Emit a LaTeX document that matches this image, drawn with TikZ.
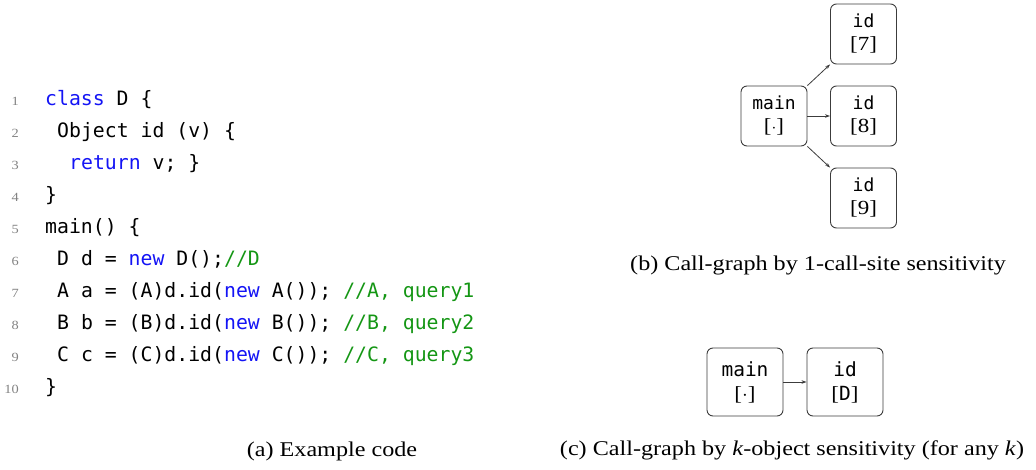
\documentclass[tikz,border=0pt]{standalone}
\usepackage{fontspec}
\usetikzlibrary{arrows.meta}
\newfontfamily\codefont{DejaVu Sans Mono}
\setmainfont{Liberation Serif}[FakeStretch=1.15]
\definecolor{kw}{RGB}{20,20,245}
\definecolor{cm}{RGB}{20,150,20}
\definecolor{lnum}{RGB}{130,130,130}
\definecolor{boxc}{RGB}{60,60,60}
\tikzset{
  codeline/.style={anchor=base west, inner sep=0pt, font=\codefont\fontsize{19.8}{22}\selectfont},
  lineno/.style={anchor=base east, inner sep=0pt, text=lnum, font=\fontsize{12.5}{14}\selectfont},
  caption/.style={inner sep=0pt, font=\fontsize{21}{24}\selectfont},
  cgbox/.style={draw=boxc, line width=0.9pt, rounded corners=6pt, minimum width=66pt, minimum height=60pt, align=center, inner sep=0pt, font=\codefont\fontsize{18}{23}\selectfont},
  cgboxc/.style={cgbox, minimum width=76pt, minimum height=68pt, font=\codefont\fontsize{19.5}{24}\selectfont},
  call/.style={draw=boxc, line width=0.8pt, -{Stealth[length=5pt,width=3.5pt]}}
}
\newcommand\kwd[1]{\textcolor{kw}{#1}}
\newcommand\cmt[1]{\textcolor{cm}{#1}}
\newcommand\sq[1]{{\rmfamily\fontsize{20}{23}\selectfont[}#1{\rmfamily\fontsize{20}{23}\selectfont]}}
\newcommand\dg[1]{{\rmfamily\fontsize{20}{23}\selectfont #1}}
\begin{document}
\begin{tikzpicture}[x=1pt,y=-1pt]
\useasboundingbox (0,0) rectangle (1036,470);

% line numbers
\foreach \i in {1,...,10}
  \node[lineno] (n\i) at (19, 106+\i*31.9-31.9) {\i};

% source listing
\node[codeline] (l1)  at (45, 106.0) {\kwd{class} D \{};
\node[codeline] (l2)  at (57, 137.9) {Object id (v) \{};
\node[codeline] (l3)  at (69, 169.8) {\kwd{return} v; \}};
\node[codeline] (l4)  at (45, 201.7) {\}};
\node[codeline] (l5)  at (45, 233.6) {main() \{};
\node[codeline] (l6)  at (57, 265.5) {D d = \kwd{new} D();\cmt{//D}};
\node[codeline] (l7)  at (57, 297.4) {A a = (A)d.id(\kwd{new} A()); \cmt{//A, query1}};
\node[codeline] (l8)  at (57, 329.3) {B b = (B)d.id(\kwd{new} B()); \cmt{//B, query2}};
\node[codeline] (l9)  at (57, 361.2) {C c = (C)d.id(\kwd{new} C()); \cmt{//C, query3}};
\node[codeline] (l10) at (45, 393.1) {\}};

\node[caption] (capa) at (332, 451) {(a) Example code};

% call graph, 1-call-site
\node[cgbox] (mainb) at (774, 116) {main\\\sq{$\cdot$}};
\node[cgbox] (id7) at (863.5, 34) {id\\\sq{\dg{7}}};
\node[cgbox] (id8) at (863.5, 116) {id\\\sq{\dg{8}}};
\node[cgbox] (id9) at (863.5, 198) {id\\\sq{\dg{9}}};
\draw[call] (mainb.north east) -- (id7.south west);
\draw[call] (mainb.east) -- (id8.west);
\draw[call] (mainb.south east) -- (id9.north west);
\node[caption] (capb) at (818, 265) {(b) Call-graph by 1-call-site sensitivity};

% call graph, object sensitivity
\node[cgboxc] (mainc) at (745, 382) {main\\\sq{$\cdot$}};
\node[cgboxc] (idd) at (845, 382) {id\\\sq{D}};
\draw[call] (mainc.east) -- (idd.west);
\node[caption] (capc) at (792, 450) {(c) Call-graph by \textit{k}-object sensitivity (for any \textit{k})};
\end{tikzpicture}
\end{document}
